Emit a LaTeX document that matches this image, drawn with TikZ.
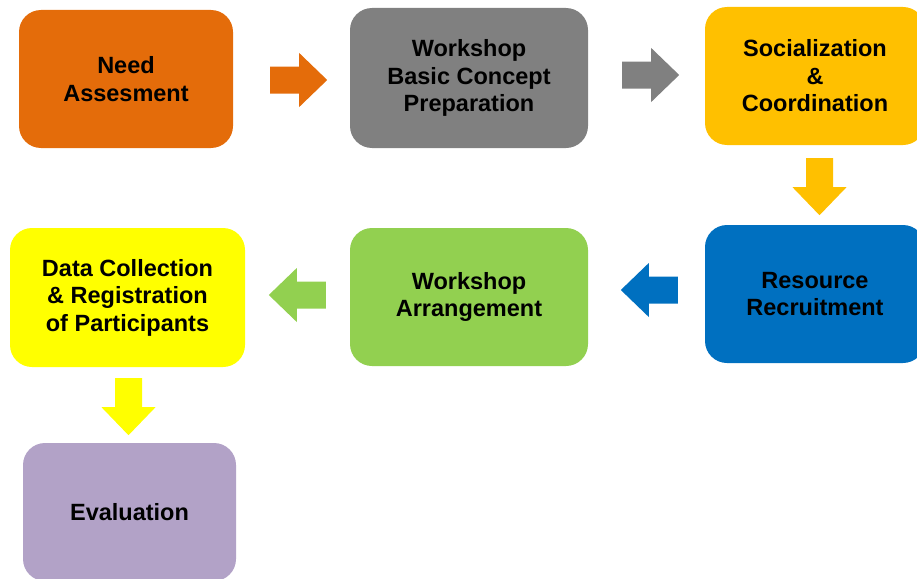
\documentclass[tikz,border=0pt]{standalone}
\usepackage{fontspec}
\setmainfont{Liberation Sans}
\usetikzlibrary{calc}
\definecolor{corange}{HTML}{E46C0A}
\definecolor{cgray}{HTML}{808080}
\definecolor{cgold}{HTML}{FFC000}
\definecolor{cblue}{HTML}{0070C0}
\definecolor{cgreen}{HTML}{92D050}
\definecolor{cyellow}{HTML}{FFFF00}
\definecolor{clav}{HTML}{B2A2C7}
\newcommand\blockarr[3]{\fill[#3,shift={(#1)},rotate=#2] (0,-13.5) -- (29,-13.5) -- (29,-27) -- (57,0) -- (29,27) -- (29,13.5) -- (0,13.5) -- cycle;}
\tikzset{
  box/.style={rounded corners=22pt, minimum height=138pt, align=center, text=black,
    font=\fontsize{23.5}{27.5}\selectfont\bfseries, inner sep=0pt}
}
\begin{document}
\begin{tikzpicture}[x=1pt,y=1pt]
\useasboundingbox (0,0) rectangle (917,-578);
\clip (0,0) rectangle (917,-578);
\node[box, fill=corange, minimum width=214pt] (need) at (126,-79) {Need\\Assesment};
\node[box, fill=cgray, minimum width=238pt, minimum height=140pt] (wbcp) at (469,-78) {Workshop\\Basic Concept\\Preparation};
\node[box, fill=cgold, minimum width=220pt] (soc) at (815,-76) {Socialization\\\&\\Coordination};
\node[box, fill=cblue, minimum width=220pt] (res) at (815,-294) {Resource\\Recruitment};
\node[box, fill=cgreen, minimum width=238pt] (warr) at (469,-297) {Workshop\\Arrangement};
\node[box, fill=cyellow, minimum width=235pt, minimum height=139pt] (data) at (127.5,-297.5) {Data Collection\\\& Registration\\of Participants};
\node[box, fill=clav, minimum width=213pt] (eval) at (129.5,-512) {Evaluation};
\coordinate (t1) at ($(need.east)+(37,-1)$);
\coordinate (t2) at ($(wbcp.east)+(34,3)$);
\coordinate (t3) at ($(soc.south)+(4.5,-13)$);
\coordinate (t4) at ($(res.west)+(-27,4)$);
\coordinate (t5) at ($(warr.west)+(-24,2)$);
\coordinate (t6) at ($(data.south)+(1,-11)$);
\blockarr{t1}{0}{corange}
\blockarr{t2}{0}{cgray}
\blockarr{t3}{-90}{cgold}
\blockarr{t4}{180}{cblue}
\blockarr{t5}{180}{cgreen}
\blockarr{t6}{-90}{cyellow}
\end{tikzpicture}
\end{document}
